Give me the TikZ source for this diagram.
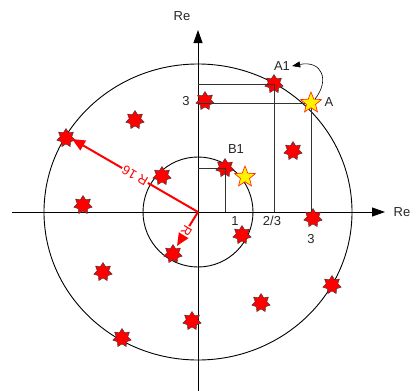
\documentclass[tikz,border=0pt]{standalone}
\usepackage{fontspec}
\setmainfont{Liberation Sans}
\usetikzlibrary{shapes.geometric,arrows.meta}
\begin{document}
\begin{tikzpicture}[x=1pt,y=-1pt,
  rstar/.style={star,star points=7,star point ratio=1.6,minimum size=19pt,inner sep=0pt,fill=red,draw=black!80,line width=0.4pt},
  ystar/.style={star,star points=5,star point ratio=2.3,minimum size=22pt,inner sep=0pt,fill=yellow,draw=red!80!orange,line width=0.6pt},
  lbl/.style={font=\fontsize{13}{15}\selectfont,text=black!85,inner sep=1pt},
  axis/.style={line width=0.9pt,-{Triangle[length=13pt,width=9pt]}},
  guide/.style={line width=0.5pt,draw=black!80},
  rarrow/.style={red,line width=2pt,-{Triangle[length=13pt,width=11pt]}},
  rlbl/.style={text=red,fill=white,font=\fontsize{13}{15}\selectfont,inner sep=1pt}
]
\useasboundingbox (0,0) rectangle (418,391);
\coordinate (O) at (198,212);
\coordinate (xs) at (12,212);
\coordinate (xe) at (385,212);
\coordinate (ys) at (198,391);
\coordinate (ye) at (198,30);
% circles
\draw[line width=0.9pt] (O) ellipse [x radius=154, y radius=148];
\draw[line width=0.9pt] (O) circle [radius=55];
% axes
\draw[axis] (xs) -- (xe);
\draw[axis] (ys) -- (ye);
\node[lbl] (reY) at (182,16) {Re};
\node[lbl] (reX) at (402,212) {Re};
% stars
\node[rstar] (s1) at (205,101) {};
\node[rstar] (a1) at (274,84) {};
\node[rstar] (s3) at (135,120) {};
\node[rstar] (s4) at (293,151) {};
\node[rstar] (s5) at (66,138) {};
\node[rstar] (s6) at (162,176) {};
\node[rstar] (b1) at (225,168) {};
\node[rstar] (s8) at (83,205) {};
\node[rstar] (s9) at (313,218) {};
\node[rstar] (s10) at (242,235) {};
\node[rstar] (s11) at (173,254) {};
\node[rstar] (s12) at (103,272) {};
\node[rstar] (s13) at (261,303) {};
\node[rstar] (s14) at (332,285) {};
\node[rstar] (s15) at (192,321) {};
\node[rstar] (s16) at (122,338) {};
% guide lines
\draw[guide] (O |- a1.center) -- (a1.center) -- (a1.center |- O);
\coordinate (A) at (311,103);
\draw[guide] (O |- A) -- (A) -- (A |- O);
\draw[guide] (O |- b1.center) -- (b1.center) -- (b1.center |- O);
\node[ystar] (ya) at (A) {};
\node[ystar] (yb) at (245,177) {};
% labels
\node[lbl] (la1) at (282,66) {A1};
\node[lbl] (la) at (329,102) {A};
\node[lbl] (lb1) at (236,149) {B1};
\node[lbl] (l3y) at (186,101) {3};
\node[lbl] (l1) at (235,221) {1};
\node[lbl] (l23) at (272,221) {2/3};
\node[lbl] (l3x) at (311,239) {3};
% curved arrow
\draw[line width=0.6pt,-{Triangle[length=8pt,width=6pt]}] (ya.north east) .. controls (330,80) and (322,60) .. ([xshift=1pt]la1.east);
% red radius arrows
\coordinate (t16) at (72,139);
\coordinate (tR) at (177,246);
\draw[rarrow] (O) -- (t16) node[rlbl,pos=0.5,sloped,rotate=180] {R 16};
\draw[rarrow] (O) -- (tR) node[rlbl,pos=0.55,sloped,rotate=180,inner sep=0.5pt] {R};
\end{tikzpicture}
\end{document}
